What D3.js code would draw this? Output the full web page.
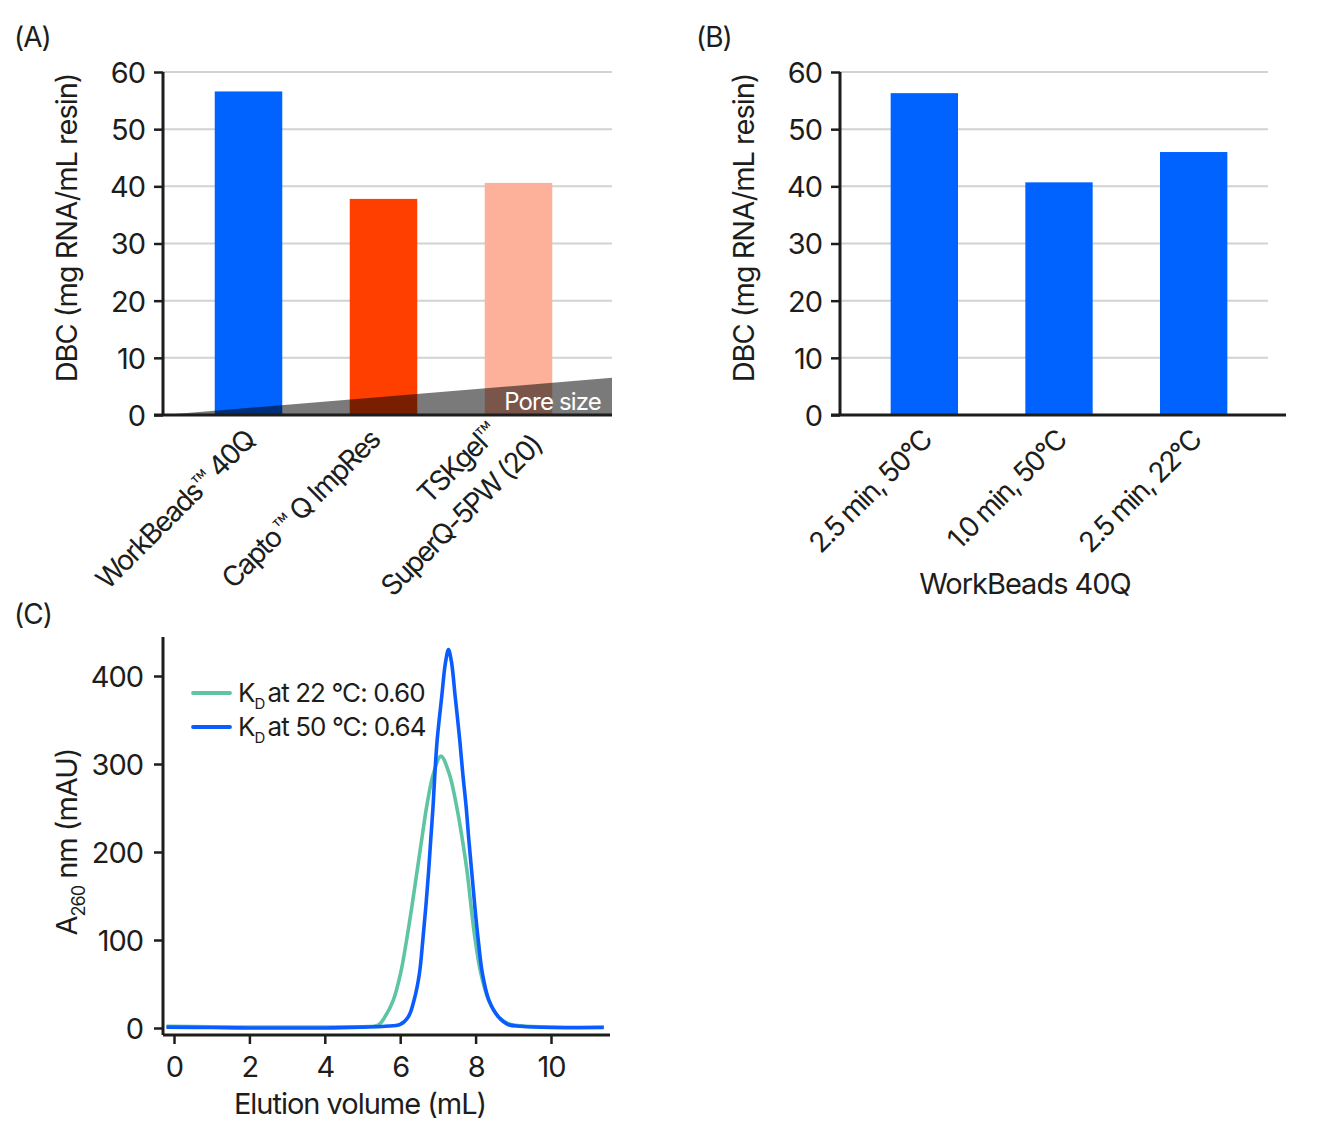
<!DOCTYPE html>
<html>
<head>
<meta charset="utf-8">
<script src="https://cdn.jsdelivr.net/npm/d3@7"></script>
<style>
  html, body { margin: 0; padding: 0; background: #fff; }
  svg { display: block; }
  text { font-family: Inter, "Liberation Sans", sans-serif; fill: #1d1d1b; letter-spacing: -0.035em; }
  text.rot { letter-spacing: -0.06em; }
</style>
</head>
<body>
<svg id="chart" width="1331" height="1131"></svg>
<script>
// ---------- DATA ----------
const resinCategories = ["WorkBeads™ 40Q", "Capto™ Q ImpRes", "TSKgel™ SuperQ-5PW (20)"];
const resinDBC = [56.6, 37.8, 40.6];
const resinColors = ["#0062ff", "#ff3f00", "#fdb19b"];

const conditionCategories = ["2.5 min, 50°C", "1.0 min, 50°C", "2.5 min, 22°C"];
const conditionDBC = [56.3, 40.7, 46.0];

const dbcTicks = [0, 10, 20, 30, 40, 50, 60];
const poreWedge = [0, 6.5]; // wedge height (DBC units) at left / right of panel A

const volumeTicks = [0, 2, 4, 6, 8, 10];
const absTicks = [0, 100, 200, 300, 400];

// Elution volume (mL) / A260 (mAU)
const trace22C = [
  [-0.2, 2], [1, 1.5], [2, 1], [3, 1], [4, 1], [5, 1.5], [5.42, 3.4], [5.6, 13], [5.82, 32],
  [6.01, 62], [6.17, 100], [6.31, 138], [6.44, 176], [6.57, 214], [6.70, 251], [6.88, 289],
  [7.08, 309], [7.30, 289], [7.50, 251], [7.65, 214], [7.78, 176], [7.88, 138], [7.99, 100],
  [8.14, 62], [8.34, 32], [8.6, 13], [8.86, 5], [9.2, 2.5], [10, 1], [11.4, 1]
];
const trace50C = [
  [-0.2, 1], [1, 0.5], [2, 0], [3, 0], [4, 0], [5, 1], [5.6, 2], [6.0, 4], [6.22, 13],
  [6.37, 32], [6.51, 62], [6.60, 100], [6.68, 138], [6.75, 176], [6.81, 214], [6.87, 251],
  [6.92, 289], [6.98, 327], [7.10, 376], [7.20, 415], [7.28, 430], [7.36, 416], [7.46, 376],
  [7.58, 327], [7.66, 289], [7.75, 251], [7.82, 214], [7.90, 176], [7.98, 138], [8.07, 100],
  [8.18, 62], [8.35, 32], [8.6, 13], [8.86, 4], [9.2, 2], [10, 0.5], [11.4, 0.5]
];
const legendLabels = [["K", "D", "at 22 °C: 0.60"], ["K", "D", "at 50 °C: 0.64"]];
const lineColors = ["#5ec4a4", "#0a5cff"];

// ---------- DRAW ----------
const svg = d3.select("#chart");
const ink = "#1d1d1b";
const FS = 29;
const FSR = 28;

function panelLabel(x, y, t) {
  svg.append("text").attr("x", x).attr("y", y).attr("font-size", 28).text(t);
}

function barPanel(opt) {
  const g = svg.append("g");
  const y = d3.scaleLinear().domain([0, 60]).range([opt.bottom, opt.top]);
  const x = d3.scaleBand().domain(opt.cats).range(opt.bandRange).paddingInner(0.5).paddingOuter(0.25);

  // grid
  g.selectAll(".grid").data(dbcTicks.filter(d => d > 0)).join("line")
    .attr("x1", opt.left).attr("x2", opt.gridRight)
    .attr("y1", d => y(d)).attr("y2", d => y(d))
    .attr("stroke", "#d2d2d2").attr("stroke-width", 2);

  // bars
  g.selectAll(".bar").data(opt.values).join("rect")
    .attr("x", (d, i) => x(opt.cats[i]))
    .attr("width", x.bandwidth())
    .attr("y", d => y(d))
    .attr("height", d => y(0) - y(d))
    .attr("fill", (d, i) => opt.colors[i]);

  if (opt.wedge) {
    const pts = [[opt.left, y(opt.wedge[0])], [opt.gridRight, y(opt.wedge[1])], [opt.gridRight, y(0)]];
    g.append("polygon").attr("points", pts.map(p => p.join(",")).join(" "))
      .attr("fill", "#000").attr("fill-opacity", 0.52);
    g.append("text").attr("x", opt.gridRight - 11).attr("y", y(0) - 5)
      .attr("text-anchor", "end").attr("font-size", 24).style("fill", "#fff").text("Pore size");
  }

  // y axis
  const ya = d3.axisLeft(y).tickValues(dbcTicks).tickSize(9).tickPadding(9);
  const yg = g.append("g").attr("transform", `translate(${opt.left},0)`).call(ya);
  yg.select(".domain").attr("stroke", ink).attr("stroke-width", 3).attr("d", `M0,${opt.top}V${opt.bottom}`);
  yg.selectAll(".tick line").attr("stroke", ink).attr("stroke-width", 2.5);
  yg.selectAll(".tick text").attr("font-size", FS).attr("dy", "0.36em").style("font-family", "Inter, sans-serif");

  // x axis baseline
  g.append("line").attr("x1", opt.left - 9).attr("x2", opt.xAxisRight)
    .attr("y1", y(0)).attr("y2", y(0)).attr("stroke", ink).attr("stroke-width", 3);

  // y title
  g.append("text").attr("transform", `translate(${opt.left - 86},228) rotate(-90)`)
    .attr("text-anchor", "middle").attr("font-size", FS).text("DBC (mg RNA/mL resin)");

  // x labels
  opt.cats.forEach((c, i) => {
    const cx = x(c) + x.bandwidth() / 2;
    const lines = opt.labelLines[i];
    const sh = opt.labelShift[i];
    if (lines.length === 1) {
      g.append("text").attr("class", "rot").attr("transform", `translate(${cx + sh},${y(0) + 27}) rotate(-45)`)
        .attr("text-anchor", "end").attr("font-size", FSR).text(lines[0]);
    } else {
      g.append("text").attr("class", "rot").attr("transform", `translate(${cx - 19},${y(0) + 20}) rotate(-45)`)
        .attr("text-anchor", "end").attr("font-size", FSR).text(lines[0]);
      g.append("text").attr("class", "rot").attr("transform", `translate(${cx + 25},${y(0) + 32}) rotate(-45)`)
        .attr("text-anchor", "end").attr("font-size", FSR).text(lines[1]);
    }
  });
  return g;
}

panelLabel(14, 47, "(A)");
panelLabel(696, 47, "(B)");
panelLabel(14, 624, "(C)");

barPanel({
  cats: resinCategories, values: resinDBC, colors: resinColors,
  left: 163, gridRight: 612, xAxisRight: 612, top: 72, bottom: 415,
  bandRange: [181, 586], wedge: poreWedge, labelShift: [8, -2, 0],
  labelLines: [["WorkBeads™ 40Q"], ["Capto\u2009™ Q ImpRes"], ["TSKgel™", "SuperQ-5PW (20)"]]
});

const gB = barPanel({
  cats: conditionCategories, values: conditionDBC, colors: ["#0062ff", "#0062ff", "#0062ff"],
  left: 840, gridRight: 1268, xAxisRight: 1286, top: 72, bottom: 415,
  bandRange: [857, 1261], wedge: null, labelShift: [9, 9, 9],
  labelLines: conditionCategories.map(c => [c])
});
gB.append("text").attr("x", 1025).attr("y", 594).attr("text-anchor", "middle")
  .attr("font-size", FS).text("WorkBeads 40Q");

// ---------- Panel C ----------
(function () {
  const left = 163, right = 610, top = 637, bottom = 1035;
  const x = d3.scaleLinear().domain([0, 10]).range([174, 551]);
  const y = d3.scaleLinear().domain([0, 400]).range([1028, 676]);
  const g = svg.append("g");

  const line = d3.line().x(d => x(d[0])).y(d => y(d[1])).curve(d3.curveCatmullRom.alpha(0.5));
  [trace22C, trace50C].forEach((tr, i) => {
    g.append("path").datum(tr).attr("d", line).attr("fill", "none")
      .attr("stroke", lineColors[i]).attr("stroke-width", 3.6).attr("stroke-linejoin", "round");
  });

  const ya = d3.axisLeft(y).tickValues(absTicks).tickSize(9).tickPadding(11);
  const yg = g.append("g").attr("transform", `translate(${left},0)`).call(ya);
  yg.select(".domain").attr("stroke", ink).attr("stroke-width", 3).attr("d", `M0,${top}V${bottom}`);
  yg.selectAll(".tick line").attr("stroke", ink).attr("stroke-width", 2.5);
  yg.selectAll(".tick text").attr("font-size", FS).attr("dy", "0.36em");

  const xa = d3.axisBottom(x).tickValues(volumeTicks).tickSize(9).tickPadding(11);
  const xg = g.append("g").attr("transform", `translate(0,${bottom})`).call(xa);
  xg.select(".domain").attr("stroke", ink).attr("stroke-width", 3).attr("d", `M${left},0H${right}`);
  xg.selectAll(".tick line").attr("stroke", ink).attr("stroke-width", 2.5);
  xg.selectAll(".tick text").attr("font-size", FS).attr("dy", "0.75em");

  g.append("text").attr("x", 360).attr("y", 1114).attr("text-anchor", "middle")
    .attr("font-size", FS).text("Elution volume (mL)");

  const yt = g.append("text").attr("transform", `translate(77,${842}) rotate(-90)`)
    .attr("text-anchor", "middle").attr("font-size", FS);
  yt.append("tspan").text("A");
  yt.append("tspan").attr("font-size", 18).attr("dy", 8).text("260");
  yt.append("tspan").attr("dy", -8).text(" nm (mAU)");

  legendLabels.forEach((lab, i) => {
    const ly = 693 + i * 34;
    g.append("line").attr("x1", 193).attr("x2", 230).attr("y1", ly).attr("y2", ly)
      .attr("stroke", lineColors[i]).attr("stroke-width", 3.8).attr("stroke-linecap", "round");
    const t = g.append("text").attr("x", 238).attr("y", ly + 9).attr("font-size", 26);
    t.append("tspan").text(lab[0]);
    t.append("tspan").attr("font-size", 15).attr("dy", 7).text(lab[1]);
    t.append("tspan").attr("dy", -7).attr("dx", 3).text(lab[2]);
  });
})();
</script>
</body>
</html>
